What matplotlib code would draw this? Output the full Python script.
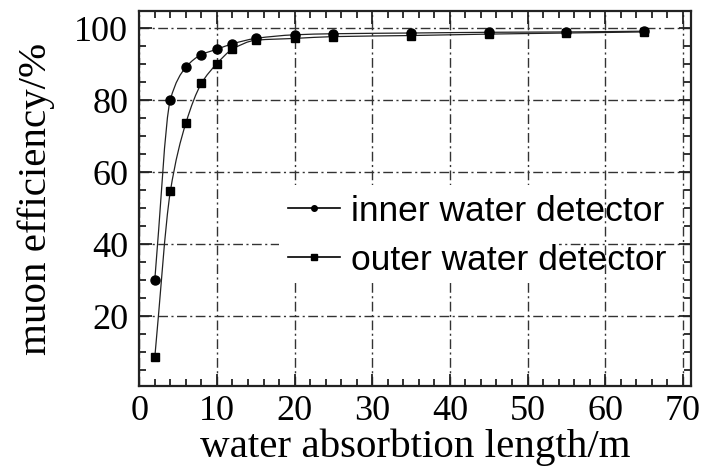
import matplotlib
matplotlib.use("Agg")
import matplotlib.pyplot as plt
import matplotlib.ticker as mticker
from matplotlib.path import Path
from matplotlib.patches import PathPatch, Rectangle
from matplotlib.lines import Line2D
import numpy as np

# absorption length (m) and muon efficiency (%) for both detectors
LENGTH = [2, 4, 6, 8, 10, 12, 15, 20, 25, 35, 45, 55, 65]
INNER = [30.0, 80.0, 89.0, 92.5, 94.0, 95.5, 97.0, 98.0, 98.3, 98.5, 98.7, 98.8, 99.0]
OUTER = [8.5, 54.5, 73.5, 84.5, 90.0, 94.0, 96.5, 97.0, 97.5, 97.8, 98.2, 98.5, 98.8]
LABELS = ["inner water detector", "outer water detector"]

SERIF = "Liberation Serif"
SANS = "Liberation Sans"


def smooth_path(x, y):
    """Monotone cubic (Fritsch-Carlson) through the points, as Bezier segments."""
    x = np.asarray(x, float)
    y = np.asarray(y, float)
    h = np.diff(x)
    d = np.diff(y) / h
    m = np.zeros_like(y)
    m[0], m[-1] = d[0], d[-1]
    for i in range(1, len(x) - 1):
        if d[i - 1] * d[i] <= 0:
            m[i] = 0.0
        else:
            w1 = 2 * h[i] + h[i - 1]
            w2 = h[i] + 2 * h[i - 1]
            m[i] = (w1 + w2) / (w1 / d[i - 1] + w2 / d[i])
    verts = [(x[0], y[0])]
    codes = [Path.MOVETO]
    for i in range(len(x) - 1):
        verts += [(x[i] + h[i] / 3, y[i] + m[i] * h[i] / 3),
                  (x[i + 1] - h[i] / 3, y[i + 1] - m[i + 1] * h[i] / 3),
                  (x[i + 1], y[i + 1])]
        codes += [Path.CURVE4] * 3
    return Path(verts, codes)


fig = plt.figure(figsize=(7.02, 4.77), dpi=100)
ax = fig.add_axes([0.1984, 0.1887, 0.7854, 0.7868])

for vals, mk, ms in [(INNER, "o", 6.5), (OUTER, "s", 6.0)]:
    ax.add_patch(PathPatch(smooth_path(LENGTH, vals), facecolor="none",
                           edgecolor="#222222", lw=0.9, zorder=3))
    ax.plot(LENGTH, vals, linestyle="none", marker=mk, markersize=ms,
            color="black", zorder=4)

ax.set_xlim(0, 71)
ax.set_ylim(0.5, 104.7)
ax.xaxis.set_major_locator(mticker.MultipleLocator(10))
ax.xaxis.set_minor_locator(mticker.MultipleLocator(2))
ax.yaxis.set_major_locator(mticker.FixedLocator([20, 40, 60, 80, 100]))
ax.yaxis.set_minor_locator(mticker.MultipleLocator(5))

ax.grid(True, which="major", color="#333333", lw=1.0,
        linestyle=(0, (7, 2.5, 1.5, 2.5)), zorder=1)

ax.tick_params(which="both", direction="in", top=True, right=True,
               width=1.3, color="#222222")
ax.tick_params(which="major", length=9)
ax.tick_params(which="minor", length=5)
ax.tick_params(axis="x", which="major", pad=6)
ax.tick_params(axis="y", which="major", pad=8)
for lab in ax.get_xticklabels() + ax.get_yticklabels():
    lab.set_fontfamily(SERIF)
    lab.set_fontsize(26)
for sp in ax.spines.values():
    sp.set_linewidth(1.6)
    sp.set_color("#222222")

ax.set_xlabel("water absorbtion length/m", fontfamily=SERIF, fontsize=29.5,
              labelpad=0)
ax.set_ylabel("muon efficiency/%", fontfamily=SERIF, fontsize=29.5,
              labelpad=14)

# white panel behind the legend hides the grid there
ax.add_patch(Rectangle((18, 29.4), 36, 26.9, facecolor="white",
                       edgecolor="none", zorder=2))

handles = [
    Line2D([], [], color="black", lw=1.2, marker="o", markersize=4),
    Line2D([], [], color="black", lw=1.2, marker="s", markersize=4),
]
ax.legend(handles, LABELS, loc="center left", bbox_to_anchor=(0.27, 0.402),
          frameon=False, borderaxespad=0, borderpad=0, handlelength=1.47,
          handletextpad=0.3, labelspacing=0.45,
          prop={"family": SANS, "size": 25.5})

fig.savefig("out.png", dpi=100)
